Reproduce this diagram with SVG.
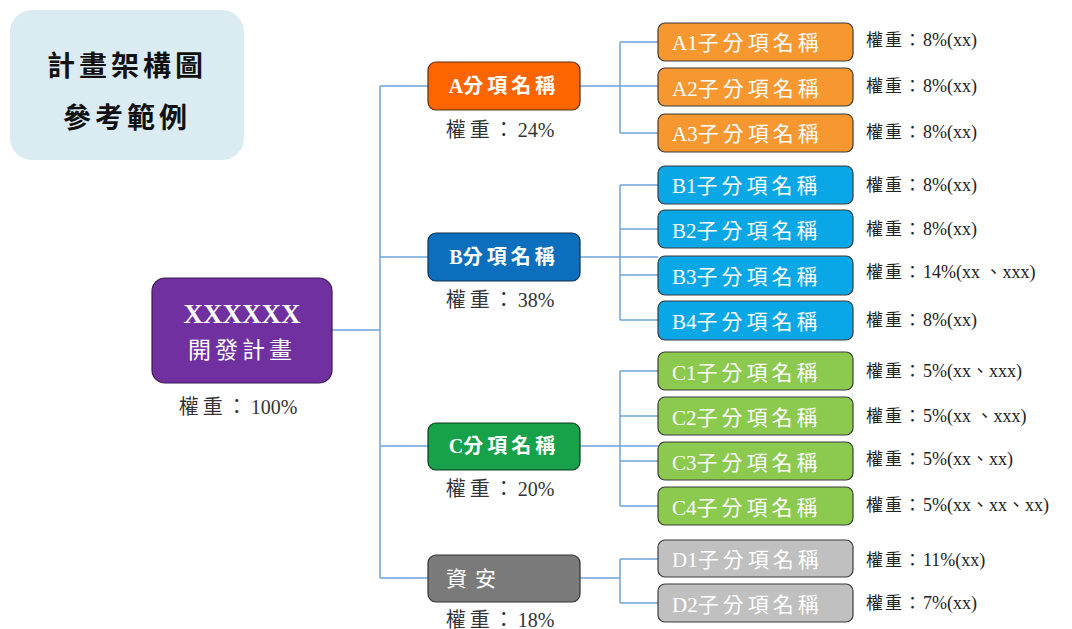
<svg xmlns="http://www.w3.org/2000/svg" width="1072" height="629" viewBox="0 0 1072 629">
<style>
.t{font-family:"Liberation Serif","Noto Sans CJK TC",serif}
.sub{font-size:21px;fill:#fff}
.sub .c{letter-spacing:4px}
.cat{font-size:20px;fill:#fff;font-weight:bold}
.cat .c{letter-spacing:4px}
.w{font-size:18px;fill:#222}
.w .c{letter-spacing:2px;font-size:17px}
.cw{font-size:20px;fill:#333}
.cw .c{letter-spacing:4px}
.sb{stroke:#3a3a3a;stroke-width:1.2}
</style>
<rect width="1072" height="629" fill="#fff"/>
<g id="title">
<rect x="10" y="10" width="234" height="150" rx="22" fill="#daebf2"/>
<text class="t" x="127" y="76" font-size="28" font-weight="bold" text-anchor="middle" letter-spacing="4" fill="#111">計畫架構圖</text>
<text class="t" x="127" y="128" font-size="28" font-weight="bold" text-anchor="middle" letter-spacing="4" fill="#111">參考範例</text>
</g>
<g id="connectors" fill="none" stroke="#6fa3d8" stroke-width="1.5">
<path d="M332 330H380M380 86V578M380 86H428M380 257H428M380 446H428M380 578H428"/>
<path d="M580 86H658M620 42V133M620 42H658M620 133H658"/>
<path d="M580 257H658M620 185V320M620 185H658M620 229H658M620 275H658M620 320H658"/>
<path d="M580 446H658M620 371V506M620 371H658M620 416H658M620 461H658M620 506H658"/>
<path d="M580 578H620M620 559V603M620 559H658M620 603H658"/>
</g>
<g id="root">
<rect x="152" y="278" width="180" height="105" rx="13" fill="#7030a0" stroke="#3b1a55" stroke-width="1.2"/>
<text class="t" x="242" y="323" font-size="27" font-weight="bold" fill="#fff" text-anchor="middle">XXXXXX</text>
<text class="t" x="242" y="358" font-size="23" fill="#fff" text-anchor="middle" letter-spacing="4">開發計畫</text>
<text class="t cw" x="238" y="414" text-anchor="middle"><tspan class="c">權重：</tspan>100%</text>
</g>
<g id="catA">
<rect x="428" y="62" width="152" height="48" rx="8" fill="#fd6502" stroke="#5a2e10" stroke-width="1.2"/>
<text class="t cat" x="504" y="93" text-anchor="middle">A<tspan class="c">分項名稱</tspan></text>
<text class="t cw" x="500" y="137" text-anchor="middle"><tspan class="c">權重：</tspan>24%</text>
</g>
<g id="catB">
<rect x="428" y="233" width="152" height="48" rx="8" fill="#0b6fbd" stroke="#0d3050" stroke-width="1.2"/>
<text class="t cat" x="504" y="264" text-anchor="middle">B<tspan class="c">分項名稱</tspan></text>
<text class="t cw" x="500" y="307" text-anchor="middle"><tspan class="c">權重：</tspan>38%</text>
</g>
<g id="catC">
<rect x="428" y="423" width="152" height="47" rx="8" fill="#16a14a" stroke="#0e3a1e" stroke-width="1.2"/>
<text class="t cat" x="504" y="453" text-anchor="middle">C<tspan class="c">分項名稱</tspan></text>
<text class="t cw" x="500" y="496" text-anchor="middle"><tspan class="c">權重：</tspan>20%</text>
</g>
<g id="catD">
<rect x="428" y="555" width="152" height="47" rx="8" fill="#7a7a7a" stroke="#333" stroke-width="1.2"/>
<text class="t" x="446" y="586" font-size="21" fill="#fff" letter-spacing="8">資安</text>
<text class="t cw" x="500" y="627" text-anchor="middle"><tspan class="c">權重：</tspan>18%</text>
</g>
<g id="A1"><rect class="sb" x="658" y="23" width="195" height="38" rx="7" fill="#f7972f"/><text class="t sub" x="672" y="50">A1<tspan class="c">子分項名稱</tspan></text><text class="t w" x="866" y="46"><tspan class="c">權重：</tspan>8%(xx)</text></g>
<g id="A2"><rect class="sb" x="658" y="68" width="195" height="38" rx="7" fill="#f7972f"/><text class="t sub" x="672" y="96">A2<tspan class="c">子分項名稱</tspan></text><text class="t w" x="866" y="92"><tspan class="c">權重：</tspan>8%(xx)</text></g>
<g id="A3"><rect class="sb" x="658" y="114" width="195" height="38" rx="7" fill="#f7972f"/><text class="t sub" x="672" y="141">A3<tspan class="c">子分項名稱</tspan></text><text class="t w" x="866" y="138"><tspan class="c">權重：</tspan>8%(xx)</text></g>
<g id="B1"><rect class="sb" x="658" y="166" width="195" height="38" rx="7" fill="#0aa7e6"/><text class="t sub" x="672" y="193">B1<tspan class="c">子分項名稱</tspan></text><text class="t w" x="866" y="191"><tspan class="c">權重：</tspan>8%(xx)</text></g>
<g id="B2"><rect class="sb" x="658" y="210" width="195" height="38" rx="7" fill="#0aa7e6"/><text class="t sub" x="672" y="238">B2<tspan class="c">子分項名稱</tspan></text><text class="t w" x="866" y="235"><tspan class="c">權重：</tspan>8%(xx)</text></g>
<g id="B3"><rect class="sb" x="658" y="256" width="195" height="39" rx="7" fill="#0aa7e6"/><text class="t sub" x="672" y="284">B3<tspan class="c">子分項名稱</tspan></text><text class="t w" x="866" y="278"><tspan class="c">權重：</tspan>14%(xx 、xxx)</text></g>
<g id="B4"><rect class="sb" x="658" y="301" width="195" height="39" rx="7" fill="#0aa7e6"/><text class="t sub" x="672" y="329">B4<tspan class="c">子分項名稱</tspan></text><text class="t w" x="866" y="326"><tspan class="c">權重：</tspan>8%(xx)</text></g>
<g id="C1"><rect class="sb" x="658" y="352" width="195" height="38" rx="7" fill="#8bc94f"/><text class="t sub" x="672" y="380">C1<tspan class="c">子分項名稱</tspan></text><text class="t w" x="866" y="377"><tspan class="c">權重：</tspan>5%(xx、xxx)</text></g>
<g id="C2"><rect class="sb" x="658" y="397" width="195" height="38" rx="7" fill="#8bc94f"/><text class="t sub" x="672" y="425">C2<tspan class="c">子分項名稱</tspan></text><text class="t w" x="866" y="422"><tspan class="c">權重：</tspan>5%(xx 、xxx)</text></g>
<g id="C3"><rect class="sb" x="658" y="442" width="195" height="38" rx="7" fill="#8bc94f"/><text class="t sub" x="672" y="470">C3<tspan class="c">子分項名稱</tspan></text><text class="t w" x="866" y="465"><tspan class="c">權重：</tspan>5%(xx、xx)</text></g>
<g id="C4"><rect class="sb" x="658" y="487" width="195" height="38" rx="7" fill="#8bc94f"/><text class="t sub" x="672" y="515">C4<tspan class="c">子分項名稱</tspan></text><text class="t w" x="866" y="511"><tspan class="c">權重：</tspan>5%(xx、xx、xx)</text></g>
<g id="D1"><rect class="sb" x="658" y="540" width="195" height="37" rx="7" fill="#c0c0c0"/><text class="t sub" x="672" y="567">D1<tspan class="c">子分項名稱</tspan></text><text class="t w" x="866" y="566"><tspan class="c">權重：</tspan>11%(xx)</text></g>
<g id="D2"><rect class="sb" x="658" y="584" width="195" height="38" rx="7" fill="#c0c0c0"/><text class="t sub" x="672" y="612">D2<tspan class="c">子分項名稱</tspan></text><text class="t w" x="866" y="609"><tspan class="c">權重：</tspan>7%(xx)</text></g>
</svg>
